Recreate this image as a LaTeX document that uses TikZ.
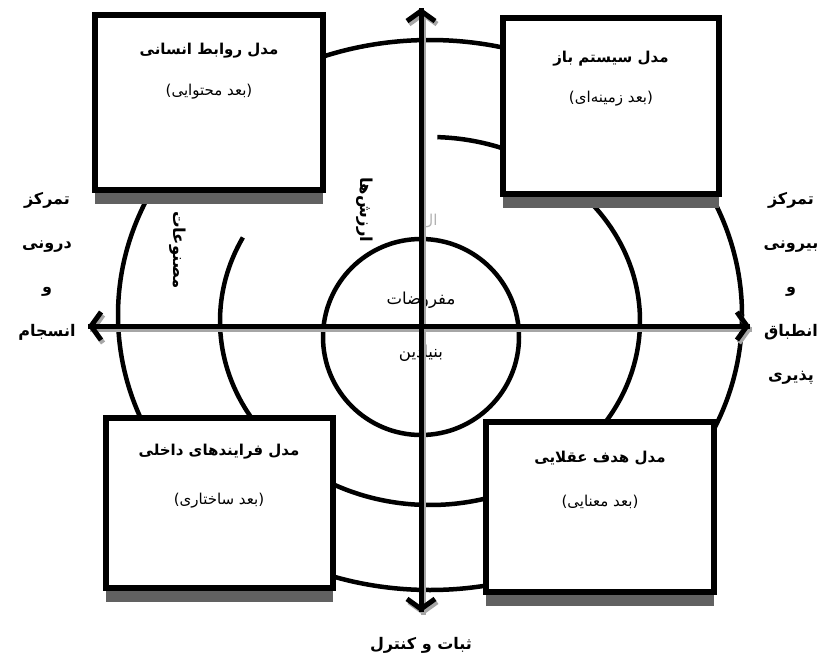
\documentclass[tikz,border=0pt]{standalone}
\usepackage{fontspec}
\usepackage{tikz}
\usetikzlibrary{arrows.meta, positioning, shadows}
\newfontfamily\fa[Script=Arabic]{DejaVu Sans}
\TeXXeTstate=1
\newcommand{\fatext}[1]{\beginR #1\endR}

\begin{document}
\begin{tikzpicture}[
    x=1pt, y=1pt,
    ring/.style={draw=black, line width=4.5pt},
    model/.style={rectangle, draw=black, line width=6pt, fill=white, drop shadow={shadow xshift=0pt, shadow yshift=-14pt, fill=black!62, opacity=1}},
    title/.style={font=\fa\bfseries\fontsize{15}{18}\selectfont, inner sep=0pt},
    sub/.style={font=\fa\fontsize{15}{18}\selectfont, inner sep=0pt},
    ringlabel/.style={font=\fa\bfseries\fontsize{16.5}{19}\selectfont, inner sep=0pt, rotate=-90},
    core/.style={font=\fa\fontsize{16.5}{19}\selectfont, inner sep=0pt},
    side/.style={font=\fa\bfseries\fontsize{16}{19}\selectfont, align=center, inner sep=0pt},
    axis/.style={line width=5pt, -{Straight Barb[length=10pt, width=28pt]}},
    axisshadow/.style={axis, draw=black!35, transform canvas={shift={(2pt,-3pt)}}},
]
\useasboundingbox (0,0) rectangle (823,-664);

% Rings: artifacts, values, basic assumptions
\coordinate (outer) at (430,-315);
\coordinate (mid) at (430,-321);
\coordinate (inner) at (421,-337);
\draw[ring] (outer) ellipse [x radius=312pt, y radius=275pt];
\draw[ring] (mid) ++(88:210pt and 184pt) arc[start angle=88, end angle=-207, x radius=210pt, y radius=184pt];
\draw[ring] (inner) circle[radius=98pt];

% Four models
\node[model, minimum width=228pt, minimum height=175pt] (hr) at (209,-102) {};
\node[model, minimum width=216pt, minimum height=176pt] (os) at (611,-106) {};
\node[model, minimum width=227pt, minimum height=170pt] (ip) at (219,-503) {};
\node[model, minimum width=228pt, minimum height=170pt] (rg) at (600,-507) {};

\node[title, below=31pt of hr.north] (hrtitle) {\fatext{مدل روابط انسانی}};
\node[sub, below=26pt of hrtitle] (hrsub) {\fatext{(بعد محتوایی)}};
\node[title, below=36pt of os.north] (ostitle) {\fatext{مدل سیستم باز}};
\node[sub, below=24pt of ostitle] (ossub) {\fatext{(بعد زمینه‌ای)}};
\node[title, below=29pt of ip.north] (iptitle) {\fatext{مدل فرایندهای داخلی}};
\node[sub, below=33pt of iptitle] (ipsub) {\fatext{(بعد ساختاری)}};
\node[title, below=32pt of rg.north] (rgtitle) {\fatext{مدل هدف عقلایی}};
\node[sub, below=29pt of rgtitle] (rgsub) {\fatext{(بعد معنایی)}};

% Ring labels
\node[ringlabel] (artifacts) at (178,-250) {\fatext{مصنوعات}};
\node[ringlabel] (values) at (365,-210) {\fatext{ارزش‌ها}};
\node[sub, text=black!30] (faint) at (430,-221) {\fatext{ال}};
\node[core] (assume) at (421,-300) {\fatext{مفروضات}};
\node[core] (basic) at (421,-353) {\fatext{بنیادین}};

% Axis labels
\node[side] (inward) at (47,-266) {\fatext{تمرکز}\\[25pt]\fatext{درونی}\\[25pt]\fatext{و}\\[25pt]\fatext{انسجام}};
\node[side] (outward) at (791,-288) {\fatext{تمرکز}\\[25pt]\fatext{بیرونی}\\[25pt]\fatext{و}\\[25pt]\fatext{انطباق}\\[25pt]\fatext{پذیری}};
\node[side] (stable) at (421,-645) {\fatext{ثبات و کنترل}};

% Axes
\coordinate (west) at (88,-326);
\coordinate (east) at (750,-326);
\coordinate (north) at (421,-8);
\coordinate (south) at (421,-612);
\draw[axisshadow] (east) -- (west);
\draw[axisshadow] (west) -- (east);
\draw[axisshadow] (south) -- (north);
\draw[axisshadow] (north) -- (south);
\draw[axis] (east) -- (west);
\draw[axis] (west) -- (east);
\draw[axis] (south) -- (north);
\draw[axis] (north) -- (south);

\end{tikzpicture}
\end{document}
